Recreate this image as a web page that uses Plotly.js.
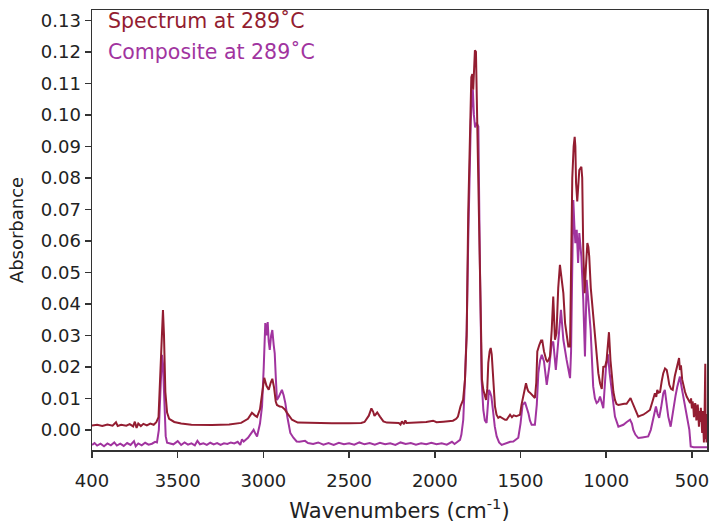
<!DOCTYPE html>
<html>
<head>
<meta charset="utf-8">
<script src="https://cdn.plot.ly/plotly-3.0.1.min.js"></script>
<style>html,body{margin:0;padding:0;background:#fff;}#chart{width:710px;height:523px;}</style>
</head>
<body>
<div id="chart"></div>
<script>
// Spectrum at 289 °C (wavenumber, absorbance)
const spectrumWn = [4000,3970,3940,3910,3880,3860,3850,3830,3800,3780,3760,3750,3740,3730,3715,3700,3680,3660,3640,3625,3612,3600,3592,3586,3580,3572,3562,3550,3520,3480,3420,3300,3200,3130,3090,3067,3050,3037,3020,3005,2995,2982,2969,2957,2948,2938,2928,2921,2905,2892,2875,2862,2845,2833,2800,2700,2600,2500,2430,2410,2385,2370,2360,2352,2343,2336,2320,2300,2280,2210,2200,2192,2180,2172,2165,2100,2050,2010,1990,1950,1920,1894,1875,1865,1850,1835,1824,1814,1805,1795,1787,1781,1776,1772,1766,1760,1752,1746,1740,1732,1725,1717,1708,1701,1694,1688,1680,1674,1668,1662,1655,1649,1640,1630,1620,1605,1590,1581,1570,1561,1550,1540,1525,1510,1503,1494,1484,1468,1460,1454,1445,1430,1416,1408,1402,1390,1380,1373,1363,1350,1344,1338,1328,1318,1309,1303,1299,1290,1280,1270,1260,1250,1240,1230,1221,1211,1206,1198,1190,1184,1180,1176,1169,1162,1157,1145,1140,1134,1126,1118,1110,1104,1099,1090,1079,1068,1056,1046,1036,1026,1017,1006,998,984,975,968,958,949,940,929,910,895,881,870,858,850,842,830,813,800,784,765,745,730,716,708,702,695,686,676,667,657,647,640,632,622,612,600,589,582,575,570,564,557,550,540,530,521,510,505,500,496,492,488,485,481,478,474,470,466,463,459,455,451,448,444,440,437,434,430,427,425,422,420,417,415,412];
const spectrumAbs = [0.0014,0.0016,0.0012,0.0017,0.0013,0.0024,0.0012,0.0016,0.0013,0.0018,0.0011,0.0026,0.0006,0.0020,0.0012,0.0019,0.0014,0.0020,0.0016,0.0024,0.0040,0.0200,0.0340,0.0380,0.0300,0.0120,0.0055,0.0035,0.0025,0.0020,0.0016,0.0015,0.0017,0.0022,0.0035,0.0054,0.0046,0.0041,0.0065,0.0120,0.0165,0.0140,0.0127,0.0150,0.0162,0.0135,0.0090,0.0079,0.0074,0.0073,0.0065,0.0054,0.0042,0.0032,0.0023,0.0021,0.0021,0.0021,0.0022,0.0025,0.0045,0.0068,0.0058,0.0044,0.0052,0.0055,0.0042,0.0027,0.0023,0.0022,0.0017,0.0027,0.0018,0.0030,0.0022,0.0023,0.0025,0.0029,0.0024,0.0026,0.0027,0.0029,0.0035,0.0042,0.0075,0.0095,0.0159,0.0300,0.0690,0.0950,0.1120,0.1130,0.1080,0.1130,0.1205,0.1200,0.0950,0.0700,0.0530,0.0244,0.0160,0.0127,0.0105,0.0095,0.0130,0.0213,0.0250,0.0260,0.0240,0.0190,0.0120,0.0074,0.0048,0.0038,0.0042,0.0036,0.0032,0.0032,0.0042,0.0048,0.0040,0.0046,0.0043,0.0045,0.0048,0.0080,0.0106,0.0148,0.0130,0.0122,0.0118,0.0110,0.0101,0.0150,0.0249,0.0270,0.0284,0.0284,0.0249,0.0222,0.0217,0.0220,0.0233,0.0317,0.0423,0.0340,0.0286,0.0307,0.0450,0.0524,0.0480,0.0434,0.0339,0.0290,0.0265,0.0265,0.0570,0.0800,0.0900,0.0930,0.0900,0.0784,0.0725,0.0780,0.0825,0.0835,0.0800,0.0571,0.0434,0.0520,0.0593,0.0580,0.0550,0.0450,0.0381,0.0300,0.0233,0.0180,0.0148,0.0130,0.0200,0.0201,0.0220,0.0310,0.0220,0.0180,0.0120,0.0095,0.0082,0.0079,0.0082,0.0083,0.0083,0.0090,0.0101,0.0090,0.0079,0.0060,0.0042,0.0045,0.0048,0.0055,0.0063,0.0090,0.0116,0.0105,0.0127,0.0118,0.0120,0.0155,0.0180,0.0195,0.0190,0.0170,0.0143,0.0130,0.0127,0.0170,0.0201,0.0210,0.0228,0.0190,0.0205,0.0160,0.0138,0.0120,0.0105,0.0095,0.0085,0.0100,0.0068,0.0090,0.0074,0.0040,0.0055,0.0085,0.0075,0.0030,0.0040,0.0080,0.0053,0.0010,0.0060,0.0025,0.0070,0.0010,-0.0010,0.0060,0.0020,-0.0040,0.0020,0.0080,0.0210,-0.0030,0.0050,-0.0040,0.0020,0.0120];

// Composite at 289 °C (wavenumber, absorbance)
const compositeWn = [4000,3985,3970,3950,3930,3910,3890,3870,3855,3835,3815,3795,3775,3755,3745,3730,3710,3690,3670,3650,3632,3621,3610,3600,3592,3586,3578,3570,3562,3545,3525,3500,3480,3460,3440,3420,3400,3385,3370,3350,3330,3310,3290,3270,3250,3230,3210,3190,3170,3150,3135,3125,3115,3090,3070,3057,3047,3037,3020,3008,2998,2989,2982,2975,2969,2963,2955,2948,2940,2934,2928,2921,2910,2900,2892,2882,2872,2860,2843,2825,2806,2790,2770,2757,2740,2710,2680,2650,2620,2590,2560,2530,2500,2470,2440,2410,2380,2350,2320,2290,2260,2230,2200,2170,2140,2110,2080,2050,2020,1990,1960,1930,1900,1885,1873,1860,1853,1845,1834,1824,1814,1805,1795,1790,1782,1778,1772,1765,1757,1751,1746,1737,1727,1717,1708,1698,1690,1684,1678,1670,1659,1650,1639,1625,1610,1595,1581,1560,1542,1532,1513,1500,1494,1488,1474,1468,1454,1445,1435,1416,1405,1396,1386,1376,1363,1347,1332,1318,1309,1294,1283,1274,1264,1250,1240,1231,1211,1205,1200,1192,1186,1180,1172,1164,1157,1145,1134,1124,1114,1105,1091,1076,1066,1056,1046,1036,1017,1001,990,980,968,949,929,915,900,880,861,850,842,830,813,790,770,755,740,726,716,710,700,691,680,667,658,650,638,624,608,595,585,570,560,550,538,527,515,507,490,450,412];
const compositeAbs = [-0.0048,-0.0042,-0.0050,-0.0044,-0.0052,-0.0043,-0.0049,-0.0040,-0.0050,-0.0044,-0.0051,-0.0042,-0.0048,-0.0036,-0.0052,-0.0043,-0.0049,-0.0041,-0.0047,-0.0044,-0.0038,-0.0040,0.0000,0.0120,0.0238,0.0210,0.0080,-0.0020,-0.0041,-0.0044,-0.0046,-0.0036,-0.0048,-0.0040,-0.0047,-0.0043,-0.0049,-0.0035,-0.0046,-0.0043,-0.0048,-0.0041,-0.0046,-0.0042,-0.0048,-0.0043,-0.0045,-0.0040,-0.0043,-0.0038,-0.0048,-0.0030,-0.0037,-0.0025,-0.0010,0.0000,-0.0012,-0.0021,0.0020,0.0074,0.0200,0.0339,0.0300,0.0342,0.0280,0.0254,0.0300,0.0317,0.0270,0.0243,0.0170,0.0095,0.0105,0.0120,0.0127,0.0110,0.0085,0.0040,-0.0010,-0.0025,-0.0037,-0.0038,-0.0036,-0.0035,-0.0042,-0.0045,-0.0040,-0.0047,-0.0042,-0.0048,-0.0041,-0.0046,-0.0043,-0.0047,-0.0040,-0.0046,-0.0042,-0.0047,-0.0041,-0.0046,-0.0043,-0.0048,-0.0040,-0.0045,-0.0042,-0.0047,-0.0043,-0.0046,-0.0041,-0.0046,-0.0043,-0.0047,-0.0038,-0.0045,-0.0040,-0.0034,-0.0032,-0.0015,0.0032,0.0160,0.0317,0.0600,0.0850,0.0980,0.1070,0.1080,0.1000,0.0960,0.0975,0.0970,0.0963,0.0530,0.0159,0.0063,0.0030,0.0022,0.0080,0.0127,0.0120,0.0106,0.0054,0.0010,-0.0021,-0.0040,-0.0048,-0.0045,-0.0041,-0.0038,-0.0037,-0.0032,-0.0025,0.0020,0.0063,0.0079,0.0088,0.0079,0.0053,0.0030,0.0016,0.0016,0.0080,0.0180,0.0220,0.0238,0.0217,0.0143,0.0201,0.0275,0.0280,0.0190,0.0260,0.0339,0.0381,0.0286,0.0250,0.0222,0.0164,0.0250,0.0444,0.0730,0.0650,0.0593,0.0635,0.0530,0.0625,0.0550,0.0413,0.0233,0.0476,0.0402,0.0317,0.0138,0.0100,0.0085,0.0090,0.0106,0.0069,0.0201,0.0240,0.0180,0.0127,0.0042,0.0010,0.0014,0.0016,0.0025,0.0032,0.0020,0.0000,-0.0015,-0.0026,-0.0024,-0.0022,-0.0021,0.0000,0.0032,0.0060,0.0074,0.0050,0.0038,0.0070,0.0116,0.0127,0.0090,0.0042,0.0010,0.0074,0.0110,0.0138,0.0169,0.0135,0.0106,0.0070,0.0042,0.0000,-0.0053,-0.0055,-0.0055,-0.0055];

const xTickVals = [4000,3500,3000,2500,2000,1500,1000,500];
const xTickText = ["400","3500","3000","2500","2000","1500","1000","500"];
const legendLabels = ["Spectrum at 289˚C","Composite at 289˚C"];

const redColor = "#931d31";
const purpleColor = "#a1349f";
const fontFamily = "DejaVu Sans, sans-serif";

const traces = [
  {x: compositeWn, y: compositeAbs, type: "scatter", mode: "lines",
   line: {color: purpleColor, width: 2}, showlegend: false, hoverinfo: "skip"},
  {x: spectrumWn, y: spectrumAbs, type: "scatter", mode: "lines",
   line: {color: redColor, width: 2}, showlegend: false, hoverinfo: "skip"}
];

const layout = {
  width: 710, height: 523,
  margin: {l: 92, r: 3, t: 10, b: 73},
  paper_bgcolor: "#fff", plot_bgcolor: "#fff",
  font: {family: fontFamily, size: 18, color: "#222"},
  xaxis: {
    range: [4000, 412], autorange: false,
    tickvals: xTickVals, ticktext: xTickText,
    ticks: "outside", ticklen: 6, tickwidth: 1.5, tickcolor: "#333",
    ticklabelstandoff: 8,
    showline: true, mirror: true, linecolor: "#333", linewidth: 1.5,
    showgrid: false, zeroline: false,
    tickfont: {size: 18, color: "#222"},
    title: {text: "Wavenumbers (cm<sup>-1</sup>)", font: {size: 21, color: "#222"}, standoff: 16}
  },
  yaxis: {
    range: [-0.0064, 0.1333], autorange: false,
    dtick: 0.01, tick0: 0, tickformat: ".2f",
    ticks: "outside", ticklen: 6, tickwidth: 1.5, tickcolor: "#333",
    showline: true, mirror: true, linecolor: "#333", linewidth: 1.5,
    showgrid: false, zeroline: false,
    tickfont: {size: 18, color: "#222"},
    title: {text: "Absorbance", font: {size: 18, color: "#222"}, standoff: 12}
  },
  annotations: [
    {xref: "paper", yref: "paper", x: 0.022, y: 0.975, xanchor: "left", yanchor: "middle",
     text: legendLabels[0], showarrow: false, font: {size: 20.5, color: redColor, family: fontFamily}},
    {xref: "paper", yref: "paper", x: 0.022, y: 0.905, xanchor: "left", yanchor: "middle",
     text: legendLabels[1], showarrow: false, font: {size: 20.5, color: purpleColor, family: fontFamily}}
  ]
};

Plotly.newPlot("chart", traces, layout, {displayModeBar: false, staticPlot: true});
</script>
</body>
</html>
